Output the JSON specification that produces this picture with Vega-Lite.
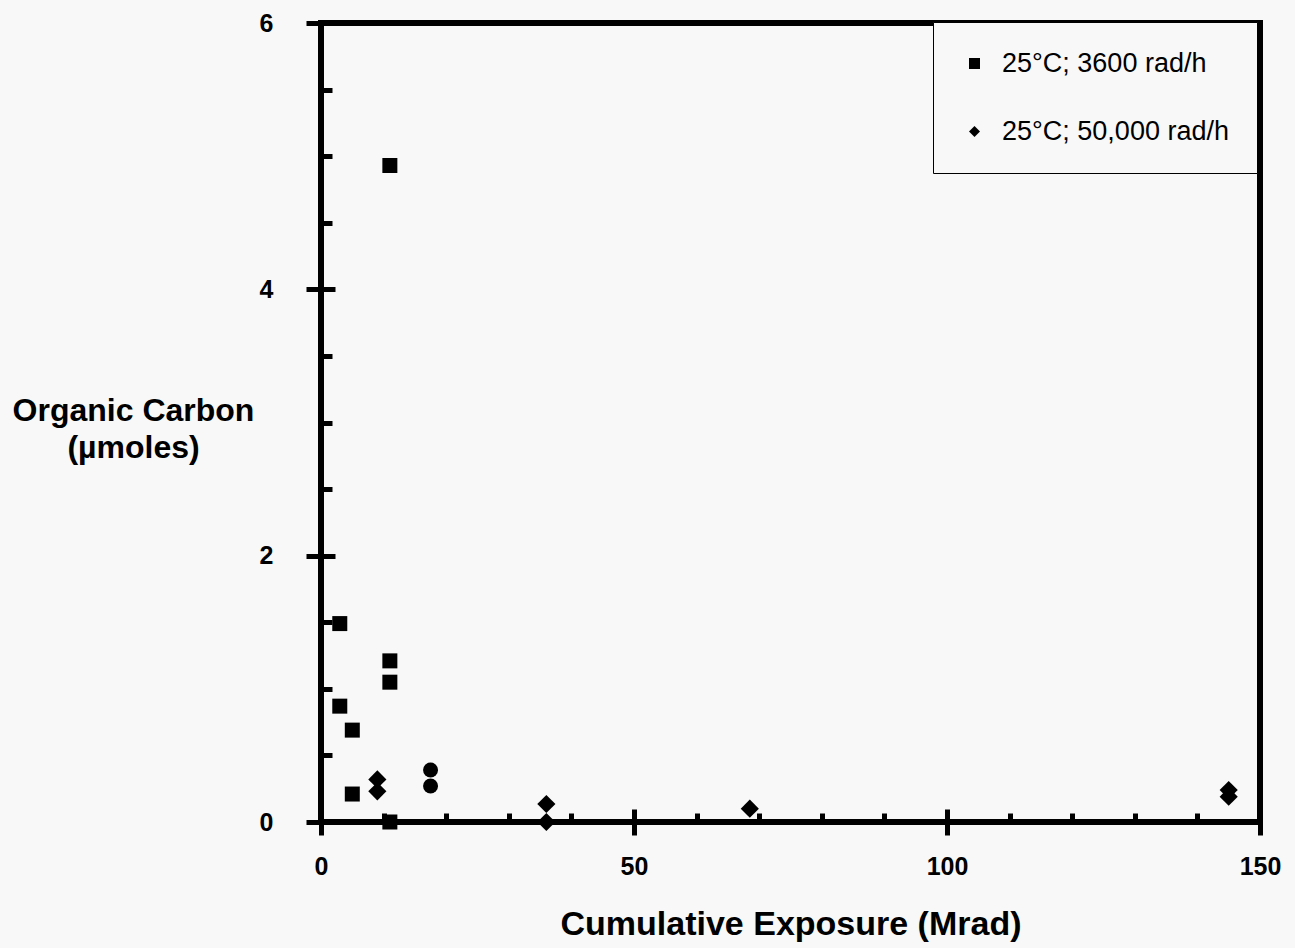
{
  "$schema": "https://vega.github.io/schema/vega-lite/v6.json",
  "width": 939,
  "height": 799,
  "autosize": {"type": "none"},
  "padding": {"left": 321, "top": 23, "right": 35, "bottom": 126},
  "background": "#f8f8f8",
  "config": {
    "view": {"stroke": "black", "strokeWidth": 6},
    "font": "Liberation Sans"
  },
  "data": {
    "values": [
      {"series": "25°C; 3600 rad/h", "exposure": 3, "carbon": 1.49},
      {"series": "25°C; 3600 rad/h", "exposure": 3, "carbon": 0.87},
      {"series": "25°C; 3600 rad/h", "exposure": 5, "carbon": 0.69},
      {"series": "25°C; 3600 rad/h", "exposure": 5, "carbon": 0.21},
      {"series": "25°C; 3600 rad/h", "exposure": 11, "carbon": 1.21},
      {"series": "25°C; 3600 rad/h", "exposure": 11, "carbon": 1.05},
      {"series": "25°C; 3600 rad/h", "exposure": 11, "carbon": 0.0},
      {"series": "25°C; 3600 rad/h", "exposure": 11, "carbon": 4.93},
      {"series": "25°C; 50,000 rad/h", "exposure": 9, "carbon": 0.32},
      {"series": "25°C; 50,000 rad/h", "exposure": 9, "carbon": 0.23},
      {"series": "25°C; 50,000 rad/h", "exposure": 36, "carbon": 0.135},
      {"series": "25°C; 50,000 rad/h", "exposure": 36, "carbon": 0.0},
      {"series": "25°C; 50,000 rad/h", "exposure": 68.5, "carbon": 0.1},
      {"series": "25°C; 50,000 rad/h", "exposure": 145, "carbon": 0.24},
      {"series": "25°C; 50,000 rad/h", "exposure": 145, "carbon": 0.19},
      {"series": "other", "exposure": 17.5, "carbon": 0.39},
      {"series": "other", "exposure": 17.5, "carbon": 0.27}
    ]
  },
  "layer": [
    {
      "layer": [
        {
          "transform": [{"filter": "datum.series !== '25°C; 50,000 rad/h'"}],
          "mark": {"type": "point", "filled": true, "opacity": 1, "color": "black", "strokeWidth": 0, "size": 225},
          "encoding": {
            "x": {
              "field": "exposure", "type": "quantitative",
              "scale": {"domain": [0, 150], "nice": false, "zero": true},
              "axis": {
                "values": [0, 50, 100, 150],
                "format": "d",
                "grid": false,
                "domainColor": "black", "domainWidth": 5,
                "tickColor": "black", "tickWidth": 5, "tickSize": 13,
                "labelFont": "Liberation Sans", "labelFontWeight": "bold", "labelFontSize": 25, "labelColor": "black",
                "labelPadding": 19, "labelFlush": false,
                "title": "Cumulative Exposure (Mrad)",
                "titleFont": "Liberation Sans", "titleFontWeight": "bold", "titleFontSize": 34, "titleColor": "black",
                "titleY": 112, "titleBaseline": "alphabetic"
              }
            },
            "y": {
              "field": "carbon", "type": "quantitative",
              "scale": {"domain": [0, 6], "nice": false, "zero": true},
              "axis": {
                "values": [0, 2, 4, 6],
                "format": "d",
                "grid": false,
                "domainColor": "black", "domainWidth": 5,
                "tickColor": "black", "tickWidth": 5, "tickSize": 15,
                "labelFont": "Liberation Sans", "labelFontWeight": "bold", "labelFontSize": 25, "labelColor": "black",
                "labelPadding": 33, "labelFlush": false,
                "title": ["Organic Carbon", "(µmoles)"],
                "titleFont": "Liberation Sans", "titleFontWeight": "bold", "titleFontSize": 32, "titleColor": "black",
                "titleAngle": 0, "titleAlign": "center", "titleBaseline": "middle", "titleLineHeight": 37,
                "titleX": -188, "titleY": 387
              }
            },
            "shape": {
              "field": "series", "type": "nominal",
              "scale": {"domain": ["25°C; 3600 rad/h", "25°C; 50,000 rad/h", "other"], "range": ["square", "diamond", "circle"]},
              "legend": {
                "values": ["25°C; 3600 rad/h", "25°C; 50,000 rad/h"],
                "title": null,
                "orient": "none", "legendX": 612, "legendY": -1,
                "strokeColor": "black", "fillColor": "#f8f8f8",
                "padding": 28, "rowPadding": 40,
                "labelFont": "Liberation Sans", "labelFontSize": 27, "labelColor": "black", "labelOffset": 14, "labelLimit": 0,
                "symbolSize": 121, "symbolFillColor": "black", "symbolStrokeColor": "black", "symbolStrokeWidth": 0
              }
            }
          }
        },
        {
          "transform": [{"filter": "datum.series === '25°C; 50,000 rad/h'"}],
          "mark": {"type": "point", "filled": true, "opacity": 1, "color": "black", "strokeWidth": 0, "size": 330},
          "encoding": {
            "x": {"field": "exposure", "type": "quantitative"},
            "y": {"field": "carbon", "type": "quantitative"},
            "shape": {
              "field": "series", "type": "nominal",
              "scale": {"domain": ["25°C; 3600 rad/h", "25°C; 50,000 rad/h", "other"], "range": ["square", "diamond", "circle"]},
              "legend": {
                "values": ["25°C; 3600 rad/h", "25°C; 50,000 rad/h"],
                "title": null,
                "orient": "none", "legendX": 612, "legendY": -1,
                "strokeColor": "black", "fillColor": "#f8f8f8",
                "padding": 28, "rowPadding": 40,
                "labelFont": "Liberation Sans", "labelFontSize": 27, "labelColor": "black", "labelOffset": 14, "labelLimit": 0,
                "symbolSize": 121, "symbolFillColor": "black", "symbolStrokeColor": "black", "symbolStrokeWidth": 0
              }
            }
          }
        }
      ]
    },
    {
      "mark": {"type": "point", "opacity": 0},
      "encoding": {
        "x": {
          "field": "exposure", "type": "quantitative",
          "scale": {"domain": [0, 150], "nice": false, "zero": true},
          "axis": {
            "orient": "bottom",
            "values": [0, 10, 20, 30, 40, 50, 60, 70, 80, 90, 100, 110, 120, 130, 140, 150],
            "grid": false, "domain": false, "labels": false, "title": null,
            "tickColor": "black", "tickWidth": 5,
            "tickSize": {"condition": {"test": "datum.value % 50 === 0", "value": -13}, "value": -9}
          }
        },
        "y": {
          "field": "carbon", "type": "quantitative",
          "scale": {"domain": [0, 6], "nice": false, "zero": true},
          "axis": {
            "orient": "left",
            "values": [0, 0.5, 1, 1.5, 2, 2.5, 3, 3.5, 4, 4.5, 5, 5.5, 6],
            "grid": false, "domain": false, "labels": false, "title": null,
            "tickColor": "black", "tickWidth": 5,
            "tickSize": {"condition": {"test": "datum.value % 2 === 0", "value": -14}, "value": -11}
          }
        }
      }
    }
  ],
  "resolve": {
    "scale": {"x": "independent", "y": "independent"},
    "axis": {"x": "independent", "y": "independent"}
  }
}
